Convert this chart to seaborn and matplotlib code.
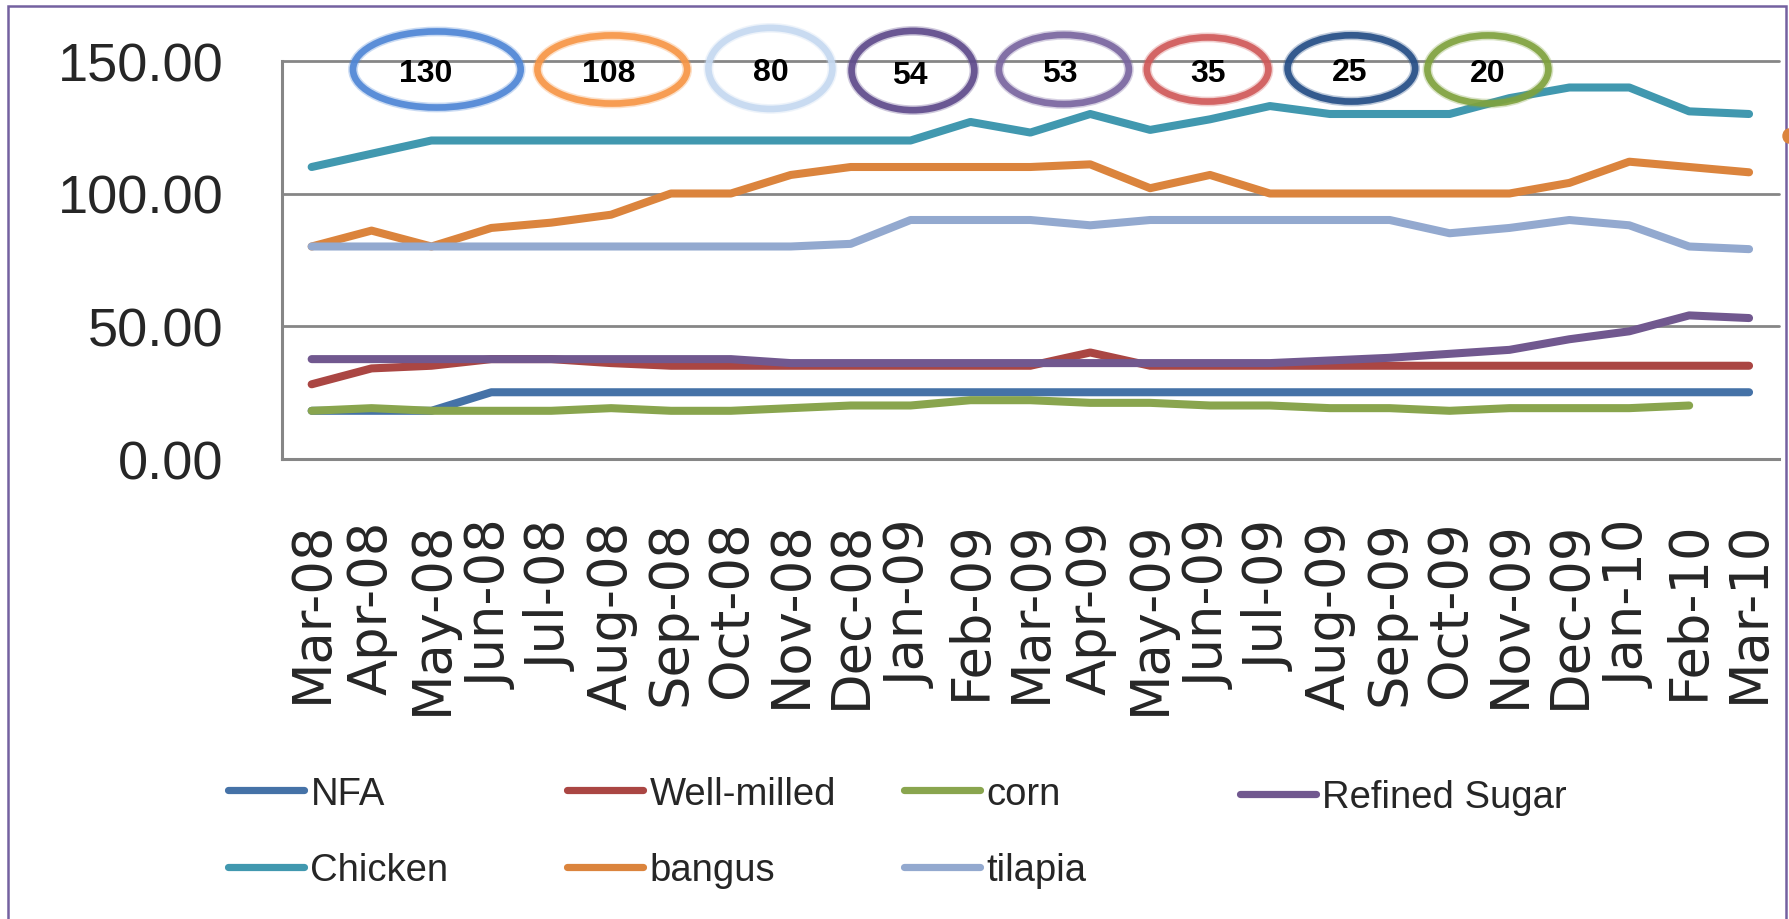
import numpy as np
import pandas as pd
import matplotlib
matplotlib.use('Agg')
import matplotlib.pyplot as plt
import seaborn as sns
from matplotlib.patches import Ellipse, Rectangle
from matplotlib.lines import Line2D
from matplotlib.ticker import FormatStrFormatter, FixedLocator

## DATOS ##

months = ['Mar-08', 'Apr-08', 'May-08', 'Jun-08', 'Jul-08', 'Aug-08', 'Sep-08', 'Oct-08',
          'Nov-08', 'Dec-08', 'Jan-09', 'Feb-09', 'Mar-09', 'Apr-09', 'May-09', 'Jun-09',
          'Jul-09', 'Aug-09', 'Sep-09', 'Oct-09', 'Nov-09', 'Dec-09', 'Jan-10', 'Feb-10', 'Mar-10']

nfa = [18, 18, 18, 25, 25, 25, 25, 25, 25, 25, 25, 25, 25, 25, 25, 25, 25, 25, 25, 25, 25, 25, 25, 25, 25]
well_milled = [28, 34, 35, 37.5, 37.5, 36, 35, 35, 35, 35, 35, 35, 35, 40, 35, 35, 35, 35, 35, 35, 35, 35, 35, 35, 35]
corn = [18, 19, 18, 18, 18, 19, 18, 18, 19, 20, 20, 22, 22, 21, 21, 20, 20, 19, 19, 18, 19, 19, 19, 20, np.nan]
refined_sugar = [37.5, 37.5, 37.5, 37.5, 37.5, 37.5, 37.5, 37.5, 36, 36, 36, 36, 36, 36, 36, 36, 36,
                 37, 38, 39.5, 41, 45, 48, 54, 53]
chicken = [110, 115, 120, 120, 120, 120, 120, 120, 120, 120, 120, 127, 123, 130, 124, 128, 133,
           130, 130, 130, 136, 140, 140, 131, 130]
bangus = [80, 86, 80, 87, 89, 92, 100, 100, 107, 110, 110, 110, 110, 111, 102, 107, 100,
          100, 100, 100, 100, 104, 112, 110, 108]
tilapia = [80, 80, 80, 80, 80, 80, 80, 80, 80, 81, 90, 90, 90, 88, 90, 90, 90, 90, 90, 85, 87, 90, 88, 80, 79]

series_names = ['NFA', 'Well-milled', 'corn', 'Refined Sugar', 'Chicken', 'bangus', 'tilapia']
series_colors = ['#4572A7', '#AA4643', '#89A54E', '#71588F', '#4198AF', '#DB843D', '#93A9CF']

# valores marcados en los círculos de arriba
callout_values = ['130', '108', '80', '54', '53', '35', '25', '20']
callout_colors = ['#4F86D6', '#F79646', '#C6D9F1', '#5F4B8B', '#7A66A0', '#D05A5A', '#254E86', '#7FA23E']
# posición / tamaño de los círculos (en unidades de datos)
callout_x = [2.09, 5.02, 7.66, 10.04, 12.56, 14.96, 17.36, 19.64]
callout_y = [146.8, 146.8, 147.2, 146.4, 146.8, 146.8, 147.2, 146.8]
callout_w = [2.8, 2.5, 2.07, 2.05, 2.17, 2.03, 2.13, 2.02]
callout_h = [28.7, 25.7, 30.6, 29.9, 26.1, 24.2, 25.0, 25.7]
label_dx = [-0.18, -0.06, 0, -0.05, -0.07, 0, -0.03, 0]

## DATAFRAME ##

wide = pd.DataFrame(dict(zip(series_names, [nfa, well_milled, corn, refined_sugar, chicken, bangus, tilapia])))
wide['idx'] = range(len(months))
long_df = wide.melt(id_vars='idx', var_name='series', value_name='price').dropna()
palette = dict(zip(series_names, series_colors))

## GRÁFICO ##

sns.set_style('white')
plt.rcParams['font.family'] = ['Liberation Sans', 'DejaVu Sans']

grey = '#868686'
fig = plt.figure(figsize=(17.89, 9.2), dpi=100)
ax = fig.add_axes([281.7 / 1789, 1 - 459.5 / 920, (1779 - 281.7) / 1789, (459.5 - 62) / 920])

sns.lineplot(data=long_df, x='idx', y='price', hue='series', hue_order=series_names,
             palette=palette, estimator=None, linewidth=5.8, legend=False, ax=ax,
             solid_capstyle='round')

ax.set_xlim(-0.5, len(months) - 0.5)
ax.set_ylim(0, 150)
ax.set_xlabel('')
ax.set_ylabel('')

# eje y
ax.yaxis.set_major_locator(FixedLocator([0, 50, 100, 150]))
ax.yaxis.set_major_formatter(FormatStrFormatter('%.2f'))
ax.tick_params(axis='y', which='major', direction='out', length=13, width=2, color=grey,
               pad=29, labelsize=39)
ax.grid(axis='y', color=grey, linewidth=2)
for gl in ax.get_ygridlines():
    gl.set_clip_on(False)

# eje x: etiquetas en el centro, marcas entre categorías
ax.set_xticks(range(len(months)))
ax.set_xticklabels(months, rotation=90, fontfamily='DejaVu Sans', fontsize=38)
ax.set_xticks(np.arange(-0.5, len(months)), minor=True)
ax.tick_params(axis='x', which='major', length=0, pad=44)
ax.tick_params(axis='x', which='minor', direction='out', length=14.5, width=1.5, color=grey)

for side in ['top', 'right']:
    ax.spines[side].set_visible(False)
for side in ['left', 'bottom']:
    ax.spines[side].set_color(grey)
    ax.spines[side].set_linewidth(2.2)

# círculos con los valores
for val, col, cx, cy, w, h, dx in zip(callout_values, callout_colors, callout_x, callout_y,
                                      callout_w, callout_h, label_dx):
    ax.add_patch(Ellipse((cx, cy), w, h, fill=False, edgecolor=col, linewidth=7,
                         alpha=0.3, clip_on=False, zorder=5))
    ax.add_patch(Ellipse((cx, cy), w, h, fill=False, edgecolor=col, linewidth=4.8,
                         alpha=0.9, clip_on=False, zorder=5))
    ax.text(cx + dx, cy - 1.5, val, ha='center', va='center', fontsize=23,
            fontweight='bold', color='black', zorder=6)

# leyenda: 4 columnas de ancho fijo como en Excel
handles = [Line2D([0], [0], color=c, linewidth=5.2, solid_capstyle='round') for c in series_colors]
col_groups = [[0, 4], [1, 5], [2, 6], [3]]
col_x = [228, 567, 904, 1240]
for grp, x0 in zip(col_groups, col_x):
    yc = 833 if len(grp) == 2 else 798
    fig.legend([handles[i] for i in grp], [series_names[i] for i in grp],
               loc='center left', bbox_to_anchor=(x0 / 1789, 1 - yc / 920),
               frameon=False, fontsize=27.5, handlelength=2.0, handletextpad=0.16,
               labelspacing=1.06, borderpad=0, borderaxespad=0)

# marco del gráfico
fig.add_artist(Rectangle((8 / 1789, -0.02), (1786 - 8) / 1789, 1.02 - 7 / 920,
                         transform=fig.transFigure, fill=False, edgecolor='#7461A0',
                         linewidth=1.8))
fig.add_artist(Ellipse((1789 / 1789, 1 - 137 / 920), 12 / 1789, 14 / 920,
                       transform=fig.transFigure, color='#DB843D'))

fig.savefig('out.png', dpi=100)
